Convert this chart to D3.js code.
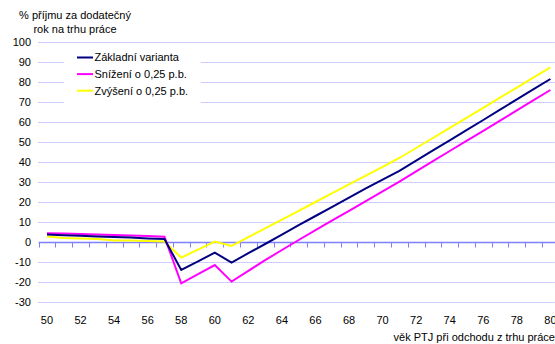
<!DOCTYPE html>
<html>
<head>
<meta charset="utf-8">
<script src="https://cdn.jsdelivr.net/npm/d3@7"></script>
<style>
  html, body { margin: 0; padding: 0; background: #fff; }
  svg { display: block; font-family: "Liberation Sans", Arial, sans-serif; }
</style>
</head>
<body>
<svg id="chart" width="555" height="344"></svg>
<script>
// Věk při odchodu z trhu práce (kategorie osy x)
const ages = d3.range(50, 81);

// % příjmu za dodatečný rok na trhu práce
const zakladni = [3.7, 3.4, 3.1, 2.8, 2.5, 2.2, 1.8, 1.5, -14.0, -9.7, -5.3, -10.3,
  -5.6, -1.0, 3.7, 8.4, 13.0, 17.6, 22.2, 26.8, 31.2, 35.6, 40.7, 45.8, 50.8, 55.9,
  61.0, 66.2, 71.3, 76.4, 81.5];
const snizeni = [4.4, 4.3, 4.0, 3.7, 3.5, 3.3, 3.0, 2.6, -20.7, -16.1, -11.5, -19.8,
  -14.4, -9.1, -4.0, 1.0, 5.9, 10.8, 15.6, 20.4, 25.3, 30.2, 35.3, 40.4, 45.5, 50.6,
  55.6, 60.7, 65.8, 70.9, 76.0];
const zvyseni = [2.7, 2.0, 1.8, 1.5, 0.8, 0.7, 0.5, 0.2, -7.8, -3.8, 0.2, -2.0,
  2.4, 6.8, 11.2, 15.6, 20.0, 24.4, 28.8, 33.2, 37.6, 42.0, 47.0, 52.0, 57.1, 62.1,
  67.1, 72.2, 77.2, 82.3, 87.3];

const seriesNames = ["Základní varianta", "Snížení o 0,25 p.b.", "Zvýšení o 0,25 p.b."];
const seriesColors = ["#000080", "#ff00ff", "#ffff00"];
const seriesValues = [zakladni, snizeni, zvyseni];

const yTicks = d3.range(-30, 101, 10);
const xTickLabels = ages.filter(a => a % 2 === 0);

const svg = d3.select("#chart");

const x = d3.scaleBand().domain(ages).range([38.6, 558.8]).padding(0);
const y = d3.scaleLinear().domain([-30, 100]).range([302, 42]);
const cx = a => x(a) + x.bandwidth() / 2;

const axisColor = "#8080ff";

// vodorovná mřížka (tečkovaná)
svg.append("g")
  .selectAll("line")
  .data(yTicks.filter(v => v !== 0))
  .join("line")
  .attr("x1", x.range()[0])
  .attr("x2", x.range()[1])
  .attr("y1", d => y(d) + 0.5)
  .attr("y2", d => y(d) + 0.5)
  .attr("stroke", "#9a9aff")
  .attr("stroke-width", 1)
  .attr("stroke-dasharray", "1,1");

// popisky osy y
svg.append("g")
  .selectAll("text")
  .data(yTicks)
  .join("text")
  .attr("x", 31)
  .attr("y", d => y(d))
  .attr("dy", "0.35em")
  .attr("text-anchor", "end")
  .attr("font-size", 11)
  .attr("fill", "#000")
  .text(d => d);

// osa x v nule s dílky mezi kategoriemi
const xAxis = d3.axisBottom(x)
  .tickValues(xTickLabels)
  .tickSize(0)
  .tickPadding(0);
const gx = svg.append("g").attr("transform", `translate(0,${y(0) + 0.5})`);
gx.append("line")
  .attr("x1", x.range()[0]).attr("x2", x.range()[1])
  .attr("stroke", axisColor).attr("stroke-width", 1.5);
gx.selectAll("line.tick-mark")
  .data(ages)
  .join("line")
  .attr("class", "tick-mark")
  .attr("x1", d => Math.round(x(d)) + 0.5)
  .attr("x2", d => Math.round(x(d)) + 0.5)
  .attr("y1", 0)
  .attr("y2", 5)
  .attr("stroke", axisColor)
  .attr("stroke-width", 1);

// popisky kategorií pod grafem
const gLabels = svg.append("g").attr("transform", `translate(0,${320})`).call(xAxis);
gLabels.select(".domain").remove();
gLabels.selectAll("text")
  .attr("font-size", 11)
  .attr("font-family", "Liberation Sans, Arial, sans-serif")
  .attr("fill", "#000")
  .attr("dy", "0.35em")
  .attr("y", 0);

// čáry jednotlivých variant
const line = d3.line()
  .x((d, i) => cx(ages[i]))
  .y(d => y(d));

svg.append("g")
  .selectAll("path")
  .data(seriesValues.map((v, i) => ({ v, i })).reverse())
  .join("path")
  .attr("d", d => line(d.v))
  .attr("fill", "none")
  .attr("stroke", d => seriesColors[d.i])
  .attr("stroke-width", 2)
  .attr("stroke-linejoin", "miter");

// legenda
const legend = svg.append("g");
legend.append("rect")
  .attr("x", 64).attr("y", 46)
  .attr("width", 137).attr("height", 58)
  .attr("fill", "#fff");
seriesNames.forEach((name, i) => {
  const ly = 57.5 + i * 16.6;
  legend.append("line")
    .attr("x1", 77).attr("x2", 93)
    .attr("y1", ly).attr("y2", ly)
    .attr("stroke", seriesColors[i])
    .attr("stroke-width", 2);
  legend.append("text")
    .attr("x", 94.5).attr("y", ly)
    .attr("dy", "0.35em")
    .attr("font-size", 11)
    .attr("fill", "#000")
    .text(name);
});

// název osy y
svg.append("text")
  .attr("x", 75).attr("y", 15)
  .attr("dy", "0.35em")
  .attr("text-anchor", "middle")
  .attr("font-size", 11)
  .attr("fill", "#000")
  .text("% příjmu za dodatečný");
svg.append("text")
  .attr("x", 75).attr("y", 29)
  .attr("dy", "0.35em")
  .attr("text-anchor", "middle")
  .attr("font-size", 11)
  .attr("fill", "#000")
  .text("rok na trhu práce");

// název osy x
svg.append("text")
  .attr("x", 555).attr("y", 337)
  .attr("dy", "0.35em")
  .attr("text-anchor", "end")
  .attr("font-size", 11)
  .attr("fill", "#000")
  .text("věk PTJ při odchodu z trhu práce");
</script>
</body>
</html>
